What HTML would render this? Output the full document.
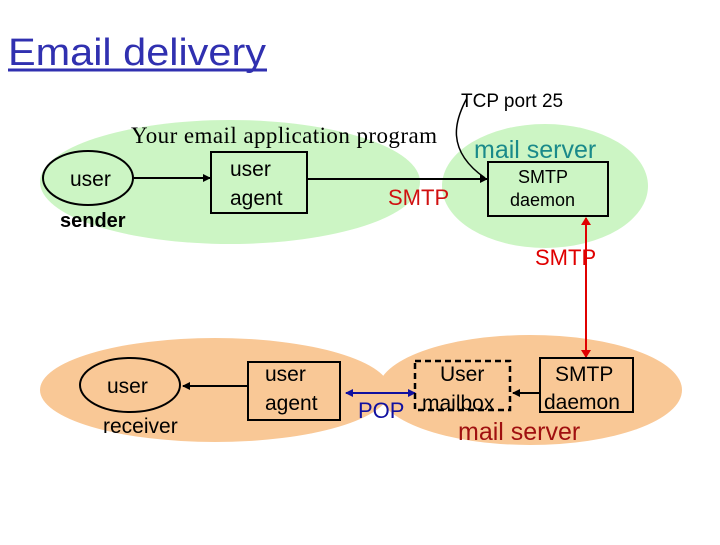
<!DOCTYPE html>
<html><head><meta charset="utf-8"><style>
body{margin:0;background:#fff;width:720px;height:540px;overflow:hidden}
</style></head><body>
<svg width="720" height="540" xmlns="http://www.w3.org/2000/svg" font-family="Liberation Sans, sans-serif">
<defs>
<marker id="a" markerWidth="8" markerHeight="8" refX="7" refY="4" orient="auto" markerUnits="userSpaceOnUse"><path d="M0,0 L8,4 L0,8 z" fill="#000"/></marker>
<marker id="r" markerWidth="8" markerHeight="10" refX="7" refY="5" orient="auto" markerUnits="userSpaceOnUse"><path d="M0,0 L8,5 L0,10 z" fill="#e00000"/></marker>
<marker id="b" markerWidth="8" markerHeight="8" refX="7" refY="4" orient="auto" markerUnits="userSpaceOnUse"><path d="M0,0 L8,4 L0,8 z" fill="#1010a0"/></marker>
</defs>
<text x="8" y="65" font-size="38" fill="#3030b0" textLength="258" lengthAdjust="spacingAndGlyphs">Email delivery</text>
<line x1="8" y1="70" x2="267" y2="70" stroke="#3030b0" stroke-width="3"/>
<ellipse cx="230" cy="182" rx="190" ry="62" fill="#ccf5c4"/>
<ellipse cx="545" cy="186" rx="103" ry="62" fill="#ccf5c4"/>
<ellipse cx="215" cy="390" rx="175" ry="52" fill="#f9c896"/>
<ellipse cx="530" cy="390" rx="152" ry="55" fill="#f9c896"/>
<text x="461" y="107" font-size="19">TCP port 25</text>
<path d="M467,98 C455,120 445,150 485,178" fill="none" stroke="#000" stroke-width="1.5"/>
<text x="131" y="143" font-size="23" font-family="Liberation Serif, serif" textLength="306">Your email application program</text>
<text x="474" y="158" font-size="25" fill="#1a8a8a">mail server</text>
<ellipse cx="88" cy="178" rx="45" ry="27" fill="none" stroke="#000" stroke-width="2"/>
<text x="70" y="186" font-size="21">user</text>
<text x="60" y="227" font-size="20" font-weight="bold">sender</text>
<line x1="134" y1="178" x2="210" y2="178" stroke="#000" stroke-width="2" marker-end="url(#a)"/>
<rect x="211" y="152" width="96" height="61" fill="none" stroke="#000" stroke-width="2"/>
<text x="230" y="176" font-size="21">user</text>
<text x="230" y="205" font-size="21">agent</text>
<line x1="307" y1="179" x2="487" y2="179" stroke="#000" stroke-width="2" marker-end="url(#a)"/>
<text x="388" y="205" font-size="22" fill="#d01010">SMTP</text>
<rect x="488" y="162" width="120" height="54" fill="none" stroke="#000" stroke-width="2"/>
<text x="518" y="183" font-size="18">SMTP</text>
<text x="510" y="206" font-size="18">daemon</text>
<line x1="586" y1="230" x2="586" y2="357" stroke="#e00000" stroke-width="2" marker-end="url(#r)"/>
<line x1="586" y1="240" x2="586" y2="218" stroke="#e00000" stroke-width="2" marker-end="url(#r)"/>
<text x="535" y="265" font-size="22" fill="#e00000">SMTP</text>
<ellipse cx="130" cy="385" rx="50" ry="27" fill="none" stroke="#000" stroke-width="2"/>
<text x="107" y="393" font-size="21">user</text>
<text x="103" y="433" font-size="21">receiver</text>
<rect x="248" y="362" width="92" height="58" fill="none" stroke="#000" stroke-width="2"/>
<text x="265" y="381" font-size="21">user</text>
<text x="265" y="410" font-size="21">agent</text>
<line x1="248" y1="386" x2="183" y2="386" stroke="#000" stroke-width="2" marker-end="url(#a)"/>
<line x1="380" y1="393" x2="346" y2="393" stroke="#1010a0" stroke-width="2" marker-end="url(#b)"/>
<line x1="380" y1="393" x2="415" y2="393" stroke="#1010a0" stroke-width="2" marker-end="url(#b)"/>
<text x="358" y="418" font-size="22" fill="#1010a0">POP</text>
<rect x="415" y="361" width="95" height="49" fill="none" stroke="#000" stroke-width="2.5" stroke-dasharray="6,4"/>
<text x="440" y="381" font-size="21">User</text>
<text x="422" y="410" font-size="21">mailbox</text>
<rect x="540" y="358" width="93" height="54" fill="none" stroke="#000" stroke-width="2"/>
<text x="555" y="381" font-size="21">SMTP</text>
<text x="544" y="409" font-size="21">daemon</text>
<line x1="540" y1="393" x2="513" y2="393" stroke="#000" stroke-width="2" marker-end="url(#a)"/>
<text x="458" y="440" font-size="25" fill="#a01010">mail server</text>
</svg>
</body></html>
